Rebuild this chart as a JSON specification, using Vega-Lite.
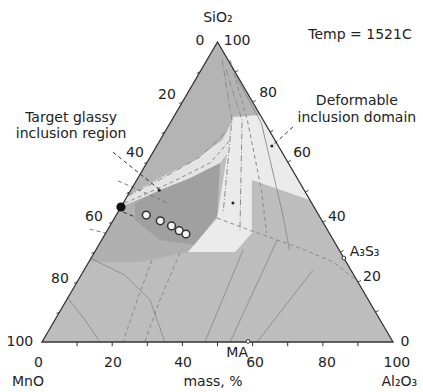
{
  "$schema": "https://vega.github.io/schema/vega-lite/v6.json",
  "width": 351,
  "height": 300,
  "autosize": "none",
  "padding": {"left": 42, "top": 42, "right": 30, "bottom": 50},
  "background": "white",
  "config": {"view": {"stroke": null}, "font": "DejaVu Sans"},
  "datasets": {
    "regions": [
      {"r": "base", "i": 0, "x": 0, "y": 0},
      {"r": "base", "i": 1, "x": 50, "y": 100},
      {"r": "base", "i": 2, "x": 100, "y": 0},
      {"r": "upper", "i": 0, "x": 50, "y": 100},
      {"r": "upper", "i": 1, "x": 24.35, "y": 48.7},
      {"r": "upper", "i": 2, "x": 33.6, "y": 54.7},
      {"r": "upper", "i": 3, "x": 43.6, "y": 60.7},
      {"r": "upper", "i": 4, "x": 51.3, "y": 67.3},
      {"r": "upper", "i": 5, "x": 54.4, "y": 74},
      {"r": "upper", "i": 6, "x": 54.4, "y": 75},
      {"r": "upper", "i": 7, "x": 62.1, "y": 75.7},
      {"r": "mid", "i": 0, "x": 22.5, "y": 45},
      {"r": "mid", "i": 1, "x": 13.35, "y": 26.7},
      {"r": "mid", "i": 2, "x": 27.9, "y": 26.7},
      {"r": "mid", "i": 3, "x": 41.6, "y": 30},
      {"r": "mid", "i": 4, "x": 49.9, "y": 41.3},
      {"r": "mid", "i": 5, "x": 50.7, "y": 59.7},
      {"r": "mid", "i": 6, "x": 42.2, "y": 54.7},
      {"r": "mid", "i": 7, "x": 33.6, "y": 50.7},
      {"r": "dark", "i": 0, "x": 26.5, "y": 46.3},
      {"r": "dark", "i": 1, "x": 33.6, "y": 50.7},
      {"r": "dark", "i": 2, "x": 42.2, "y": 54.7},
      {"r": "dark", "i": 3, "x": 50.7, "y": 59.7},
      {"r": "dark", "i": 4, "x": 49.9, "y": 42.3},
      {"r": "dark", "i": 5, "x": 43.6, "y": 32.3},
      {"r": "dark", "i": 6, "x": 33.6, "y": 34},
      {"r": "dark", "i": 7, "x": 26.5, "y": 40.7},
      {"r": "band", "i": 0, "x": 24.35, "y": 48.7},
      {"r": "band", "i": 1, "x": 33.6, "y": 54.7},
      {"r": "band", "i": 2, "x": 43.6, "y": 60.7},
      {"r": "band", "i": 3, "x": 51.3, "y": 67.3},
      {"r": "band", "i": 4, "x": 54.4, "y": 74},
      {"r": "band", "i": 5, "x": 53.6, "y": 64},
      {"r": "band", "i": 6, "x": 50.7, "y": 59.7},
      {"r": "band", "i": 7, "x": 42.2, "y": 54.7},
      {"r": "band", "i": 8, "x": 33.6, "y": 50.7},
      {"r": "band", "i": 9, "x": 22.5, "y": 45},
      {"r": "light", "i": 0, "x": 54.4, "y": 75},
      {"r": "light", "i": 1, "x": 62.1, "y": 75.7},
      {"r": "light", "i": 2, "x": 76.3, "y": 47.3},
      {"r": "light", "i": 3, "x": 59.8, "y": 54},
      {"r": "light", "i": 4, "x": 59.8, "y": 36.3},
      {"r": "light", "i": 5, "x": 55, "y": 30},
      {"r": "light", "i": 6, "x": 41.6, "y": 30},
      {"r": "light", "i": 7, "x": 49.9, "y": 41.3}
    ],
    "curves": [
      {"id": "c1", "s": "dash", "i": 0, "x": 49.9, "y": 41.3},
      {"id": "c1", "s": "dash", "i": 1, "x": 59.8, "y": 37},
      {"id": "c1", "s": "dash", "i": 2, "x": 73.5, "y": 31.3},
      {"id": "c1", "s": "dash", "i": 3, "x": 82.9, "y": 26.7},
      {"id": "c1", "s": "dash", "i": 4, "x": 89.5, "y": 20.7},
      {"id": "c2", "s": "dash", "i": 0, "x": 31.3, "y": 27.3},
      {"id": "c2", "s": "dash", "i": 1, "x": 27.1, "y": 14},
      {"id": "c2", "s": "dash", "i": 2, "x": 23.1, "y": 0},
      {"id": "c3", "s": "dash", "i": 0, "x": 39.3, "y": 29.7},
      {"id": "c3", "s": "dash", "i": 1, "x": 33.6, "y": 14},
      {"id": "c3", "s": "dash", "i": 2, "x": 29.3, "y": 0},
      {"id": "c4", "s": "solid", "i": 0, "x": 7.1, "y": 15},
      {"id": "c4", "s": "solid", "i": 1, "x": 12.3, "y": 7.3},
      {"id": "c4", "s": "solid", "i": 2, "x": 16.5, "y": 0},
      {"id": "c5", "s": "solid", "i": 0, "x": 13.7, "y": 28},
      {"id": "c5", "s": "solid", "i": 1, "x": 23.6, "y": 22.3},
      {"id": "c5", "s": "solid", "i": 2, "x": 30.8, "y": 14},
      {"id": "c5", "s": "solid", "i": 3, "x": 35, "y": 0},
      {"id": "c6", "s": "solid", "i": 0, "x": 67, "y": 34},
      {"id": "c6", "s": "solid", "i": 1, "x": 53.6, "y": 0},
      {"id": "c7", "s": "solid", "i": 0, "x": 77.2, "y": 24},
      {"id": "c7", "s": "solid", "i": 1, "x": 61.3, "y": 0},
      {"id": "c8", "s": "solid", "i": 0, "x": 57.3, "y": 30.7},
      {"id": "c8", "s": "solid", "i": 1, "x": 46.4, "y": 0},
      {"id": "c10", "s": "dashdot", "i": 0, "x": 24.5, "y": 48.7},
      {"id": "c10", "s": "dashdot", "i": 1, "x": 35, "y": 55},
      {"id": "c10", "s": "dashdot", "i": 2, "x": 45, "y": 61.7},
      {"id": "c10", "s": "dashdot", "i": 3, "x": 53, "y": 70.7},
      {"id": "c11", "s": "dash", "i": 0, "x": 23.6, "y": 46.3},
      {"id": "c11", "s": "dash", "i": 1, "x": 36.5, "y": 53},
      {"id": "c11", "s": "dash", "i": 2, "x": 47.9, "y": 59.7},
      {"id": "c11", "s": "dash", "i": 3, "x": 53.6, "y": 67.3},
      {"id": "c12", "s": "dashdot", "i": 0, "x": 51.3, "y": 94},
      {"id": "c12", "s": "dashdot", "i": 1, "x": 54.1, "y": 74},
      {"id": "c12", "s": "dashdot", "i": 2, "x": 51.6, "y": 43},
      {"id": "c13", "s": "dashdot", "i": 0, "x": 52.4, "y": 90.7},
      {"id": "c13", "s": "dashdot", "i": 1, "x": 57, "y": 74},
      {"id": "c13", "s": "dashdot", "i": 2, "x": 56.4, "y": 37.3},
      {"id": "c14", "s": "dash", "i": 0, "x": 53.6, "y": 94},
      {"id": "c14", "s": "dash", "i": 1, "x": 58.5, "y": 74},
      {"id": "c14", "s": "dash", "i": 2, "x": 62.5, "y": 50.7},
      {"id": "c14", "s": "dash", "i": 3, "x": 64, "y": 36.3},
      {"id": "c15", "s": "solid", "i": 0, "x": 55, "y": 89},
      {"id": "c15", "s": "solid", "i": 1, "x": 62.5, "y": 73},
      {"id": "c15", "s": "solid", "i": 2, "x": 68.5, "y": 43},
      {"id": "c15", "s": "solid", "i": 3, "x": 70.5, "y": 30.7}
    ],
    "segs": [
      {"s": "tick", "x": 10, "y": 0, "x2": 10, "y2": -1.4},
      {"s": "tick", "x": 20, "y": 0, "x2": 20, "y2": -1.4},
      {"s": "tick", "x": 30, "y": 0, "x2": 30, "y2": -1.4},
      {"s": "tick", "x": 40, "y": 0, "x2": 40, "y2": -1.4},
      {"s": "tick", "x": 50, "y": 0, "x2": 50, "y2": -1.4},
      {"s": "tick", "x": 60, "y": 0, "x2": 60, "y2": -1.4},
      {"s": "tick", "x": 70, "y": 0, "x2": 70, "y2": -1.4},
      {"s": "tick", "x": 80, "y": 0, "x2": 80, "y2": -1.4},
      {"s": "tick", "x": 90, "y": 0, "x2": 90, "y2": -1.4},
      {"s": "tick", "x": 5, "y": 10, "x2": 4.1, "y2": 9.5},
      {"s": "tick", "x": 10, "y": 20, "x2": 9.1, "y2": 19.5},
      {"s": "tick", "x": 15, "y": 30, "x2": 14.1, "y2": 29.5},
      {"s": "tick", "x": 20, "y": 40, "x2": 19.1, "y2": 39.5},
      {"s": "tick", "x": 25, "y": 50, "x2": 24.1, "y2": 49.5},
      {"s": "tick", "x": 30, "y": 60, "x2": 29.1, "y2": 59.5},
      {"s": "tick", "x": 35, "y": 70, "x2": 34.1, "y2": 69.5},
      {"s": "tick", "x": 40, "y": 80, "x2": 39.1, "y2": 79.5},
      {"s": "tick", "x": 45, "y": 90, "x2": 44.1, "y2": 89.5},
      {"s": "tick", "x": 95, "y": 10, "x2": 95.9, "y2": 10.5},
      {"s": "tick", "x": 90, "y": 20, "x2": 90.9, "y2": 20.5},
      {"s": "tick", "x": 85, "y": 30, "x2": 85.9, "y2": 30.5},
      {"s": "tick", "x": 80, "y": 40, "x2": 80.9, "y2": 40.5},
      {"s": "tick", "x": 75, "y": 50, "x2": 75.9, "y2": 50.5},
      {"s": "tick", "x": 70, "y": 60, "x2": 70.9, "y2": 60.5},
      {"s": "tick", "x": 65, "y": 70, "x2": 65.9, "y2": 70.5},
      {"s": "tick", "x": 60, "y": 80, "x2": 60.9, "y2": 80.5},
      {"s": "tick", "x": 55, "y": 90, "x2": 55.9, "y2": 90.5},
      {"s": "lead", "x": 20.2, "y": 63.3, "x2": 33.6, "y2": 50.7},
      {"s": "lead", "x": 23.1, "y": 43.3, "x2": 26.5, "y2": 41.7},
      {"s": "lead", "x": 71.5, "y": 71.7, "x2": 65.5, "y2": 65.3},
      {"s": "dash", "x": 21.7, "y": 53.7, "x2": 35.9, "y2": 46.3},
      {"s": "dash", "x": 13.6, "y": 37.6, "x2": 18.2, "y2": 36.3}
    ],
    "open": [
      {"x": 29.7, "y": 42.3},
      {"x": 33.7, "y": 40.4},
      {"x": 36.9, "y": 38.7},
      {"x": 39.1, "y": 37.1},
      {"x": 41.0, "y": 36.0}
    ],
    "dots": [
      {"x": 33.4, "y": 50.6},
      {"x": 54.4, "y": 46.3},
      {"x": 65.5, "y": 65.3}
    ],
    "small": [
      {"x": 58.7, "y": 0.2},
      {"x": 86, "y": 28}
    ],
    "labels": [
      {"t": "SiO₂", "x": 50.1, "y": 108},
      {"t": "0", "x": 45, "y": 100.3},
      {"t": "100", "x": 55.6, "y": 100.3},
      {"t": "Temp = 1521C", "x": 90.6, "y": 102.3},
      {"t": "20", "x": 35.6, "y": 82.3},
      {"t": "40", "x": 26.5, "y": 63},
      {"t": "60", "x": 14.8, "y": 41.7},
      {"t": "80", "x": 5.1, "y": 21},
      {"t": "100", "x": -6.3, "y": 0},
      {"t": "80", "x": 64.4, "y": 83},
      {"t": "60", "x": 74.1, "y": 63},
      {"t": "40", "x": 84, "y": 41.7},
      {"t": "20", "x": 94, "y": 21.7},
      {"t": "0", "x": 103.4, "y": 0},
      {"t": "0", "x": -1, "y": -7},
      {"t": "20", "x": 20.2, "y": -7},
      {"t": "40", "x": 40.2, "y": -7},
      {"t": "60", "x": 60.7, "y": -7},
      {"t": "80", "x": 81.2, "y": -7},
      {"t": "100", "x": 101.1, "y": -7},
      {"t": "MnO", "x": -4, "y": -13.3},
      {"t": "mass, %", "x": 48.7, "y": -13.3},
      {"t": "Al₂O₃", "x": 101.8, "y": -13.3},
      {"t": "MA", "x": 55.6, "y": -3.7},
      {"t": "A₃S₃", "x": 91.9, "y": 30},
      {"t": "Target glassy", "x": 8.3, "y": 74.8},
      {"t": "inclusion region", "x": 8.3, "y": 69.2},
      {"t": "Deformable", "x": 89.7, "y": 80.3},
      {"t": "inclusion domain", "x": 89.7, "y": 74.7}
    ]
  },
  "encoding": {
    "x": {"field": "x", "type": "quantitative", "scale": {"domain": [0, 100], "nice": false, "zero": false}, "axis": null},
    "y": {"field": "y", "type": "quantitative", "scale": {"domain": [0, 100], "nice": false, "zero": false}, "axis": null}
  },
  "layer": [
    {"data": {"name": "regions"}, "transform": [{"filter": "datum.r == 'base'"}],
     "mark": {"type": "line", "interpolate": "linear-closed", "fill": "#bdbdbd", "stroke": "#bdbdbd", "strokeWidth": 0},
     "encoding": {"order": {"field": "i", "type": "quantitative"}}},
    {"data": {"name": "regions"}, "transform": [{"filter": "datum.r == 'upper'"}],
     "mark": {"type": "line", "interpolate": "linear-closed", "fill": "#b4b4b4", "stroke": "#b4b4b4", "strokeWidth": 0},
     "encoding": {"order": {"field": "i", "type": "quantitative"}}},
    {"data": {"name": "regions"}, "transform": [{"filter": "datum.r == 'mid'"}],
     "mark": {"type": "line", "interpolate": "linear-closed", "fill": "#b0b0b0", "stroke": "#b0b0b0", "strokeWidth": 0},
     "encoding": {"order": {"field": "i", "type": "quantitative"}}},
    {"data": {"name": "regions"}, "transform": [{"filter": "datum.r == 'dark'"}],
     "mark": {"type": "line", "interpolate": "linear-closed", "fill": "#a0a0a0", "stroke": "#a0a0a0", "strokeWidth": 0},
     "encoding": {"order": {"field": "i", "type": "quantitative"}}},
    {"data": {"name": "regions"}, "transform": [{"filter": "datum.r == 'band'"}],
     "mark": {"type": "line", "interpolate": "linear-closed", "fill": "#e4e4e4", "stroke": "#e4e4e4", "strokeWidth": 0},
     "encoding": {"order": {"field": "i", "type": "quantitative"}}},
    {"data": {"name": "regions"}, "transform": [{"filter": "datum.r == 'light'"}],
     "mark": {"type": "line", "interpolate": "linear-closed", "fill": "#ebebeb", "stroke": "#ebebeb", "strokeWidth": 0},
     "encoding": {"order": {"field": "i", "type": "quantitative"}}},
    {"data": {"name": "curves"},
     "mark": {"type": "line", "color": "#8a8a8a", "strokeWidth": 1},
     "encoding": {
       "detail": {"field": "id", "type": "nominal"},
       "order": {"field": "i", "type": "quantitative"},
       "strokeDash": {"field": "s", "type": "nominal", "scale": {"domain": ["solid", "dash", "dashdot"], "range": [[1, 0], [4, 3], [6, 2, 1, 2]]}, "legend": null}
     }},
    {"data": {"name": "segs"},
     "mark": {"type": "rule", "strokeWidth": 1},
     "encoding": {
       "x2": {"field": "x2"},
       "y2": {"field": "y2"},
       "color": {"field": "s", "type": "nominal", "scale": {"domain": ["tick", "lead", "dash"], "range": ["#333333", "#333333", "#777777"]}, "legend": null},
       "strokeDash": {"field": "s", "type": "nominal", "scale": {"domain": ["tick", "lead", "dash"], "range": [[1, 0], [1, 0], [4, 3]]}, "legend": null}
     }},
    {"data": {"name": "regions"}, "transform": [{"filter": "datum.r == 'base'"}],
     "mark": {"type": "line", "interpolate": "linear-closed", "color": "#333333", "strokeWidth": 1.3},
     "encoding": {"order": {"field": "i", "type": "quantitative"}}},
    {"data": {"name": "open"},
     "mark": {"type": "point", "shape": "circle", "filled": false, "fill": "#f4f4f4", "fillOpacity": 1, "stroke": "#333333", "strokeWidth": 1.5, "size": 60, "opacity": 1}},
    {"data": {"name": "dots"},
     "mark": {"type": "point", "shape": "circle", "filled": true, "color": "#222222", "size": 9, "opacity": 1}},
    {"data": {"values": [{"x": 22.5, "y": 45}]},
     "mark": {"type": "point", "shape": "circle", "filled": true, "color": "#111111", "size": 85, "opacity": 1}},
    {"data": {"name": "small"},
     "mark": {"type": "point", "shape": "circle", "filled": false, "fill": "#ffffff", "fillOpacity": 1, "stroke": "#333333", "strokeWidth": 1, "size": 14, "opacity": 1}},
    {"data": {"name": "labels"},
     "mark": {"type": "text", "fontSize": 14, "font": "DejaVu Sans", "color": "#222222", "align": "center", "baseline": "middle"},
     "encoding": {"text": {"field": "t", "type": "nominal"}}}
  ]
}
